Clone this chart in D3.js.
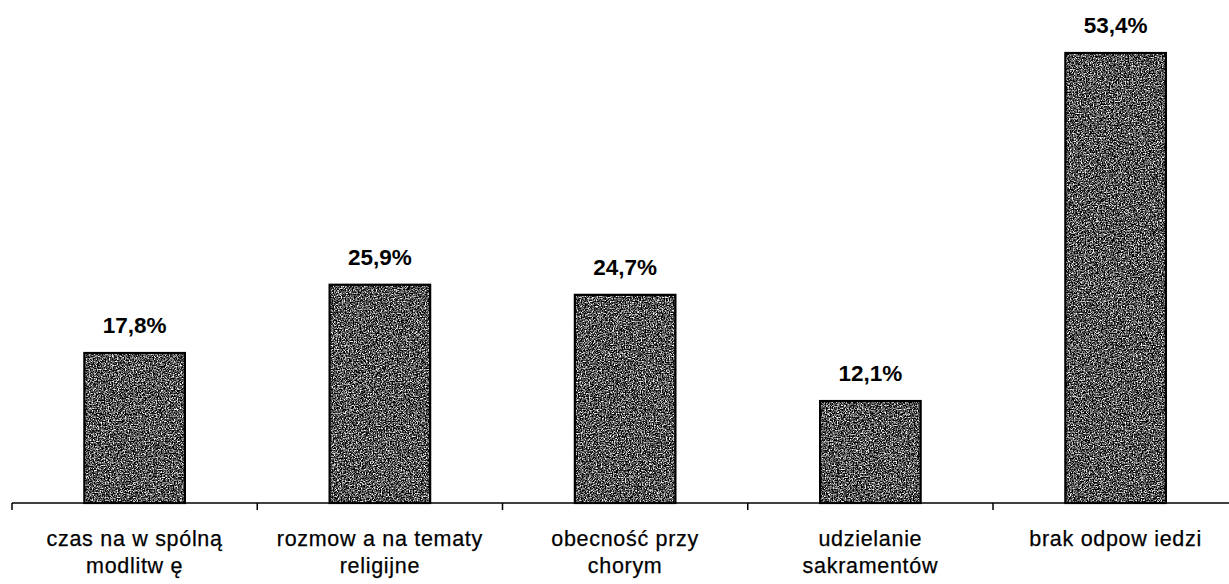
<!DOCTYPE html>
<html>
<head>
<meta charset="utf-8">
<script src="https://cdn.jsdelivr.net/npm/d3@7"></script>
<style>
  html, body { margin: 0; padding: 0; background: #fff; }
  svg { display: block; }
  text { font-family: Arial, "Liberation Sans", sans-serif; fill: #000; }
</style>
</head>
<body>
<svg id="chart" width="1229" height="584"></svg>
<script>
// Categories (each split into the lines it is printed on)
const categories = [
  ["czas na w spólną", "modlitw ę"],
  ["rozmow a na tematy", "religijne"],
  ["obecność przy", "chorym"],
  ["udzielanie", "sakramentów"],
  ["brak odpow iedzi"]
];
// Share of answers, percent
const values = [17.8, 25.9, 24.7, 12.1, 53.4];
const valueLabels = ["17,8%", "25,9%", "24,7%", "12,1%", "53,4%"];

const W = 1229, H = 584;
const left = 12, step = 245.25;
const baseY = 503;

const svg = d3.select("#chart");

// Grainy grey fill for the bars
const defs = svg.append("defs");
const f = defs.append("filter").attr("id", "grain")
  .attr("x", 0).attr("y", 0).attr("width", 1).attr("height", 1)
  .attr("color-interpolation-filters", "sRGB");
f.append("feTurbulence").attr("type", "fractalNoise")
  .attr("baseFrequency", 0.75).attr("numOctaves", 2).attr("seed", 7).attr("result", "noise");
f.append("feColorMatrix").attr("in", "noise").attr("type", "matrix")
  .attr("values", "0.33 0.33 0.33 0 0  0.33 0.33 0.33 0 0  0.33 0.33 0.33 0 0  0 0 0 0 1")
  .attr("result", "gray");
const ct = f.append("feComponentTransfer").attr("in", "gray").attr("result", "bw");
["feFuncR", "feFuncG", "feFuncB"].forEach(n =>
  ct.append(n).attr("type", "linear").attr("slope", 5).attr("intercept", -2.15));
f.append("feComposite").attr("in", "bw").attr("in2", "SourceGraphic").attr("operator", "in");

const x = d3.scaleBand()
  .domain(d3.range(values.length))
  .range([left, left + step * values.length])
  .paddingInner(0.59)
  .paddingOuter(0.295);

const y = d3.scaleLinear().domain([0, 53.4]).range([baseY, 53]);

const g = svg.append("g");

// Bars: grain fill, then black outline
g.selectAll("rect.fill").data(values).join("rect")
  .attr("class", "fill")
  .attr("x", (d, i) => x(i))
  .attr("y", d => y(d))
  .attr("width", x.bandwidth())
  .attr("height", d => baseY - y(d))
  .attr("fill", "#888")
  .attr("filter", "url(#grain)");

g.selectAll("rect.edge").data(values).join("rect")
  .attr("class", "edge")
  .attr("x", (d, i) => x(i))
  .attr("y", d => y(d))
  .attr("width", x.bandwidth())
  .attr("height", d => baseY - y(d))
  .attr("fill", "none")
  .attr("stroke", "#000")
  .attr("stroke-width", 2.2);

// Category axis with ticks between categories
g.append("line")
  .attr("x1", left).attr("x2", W)
  .attr("y1", baseY).attr("y2", baseY)
  .attr("stroke", "#000").attr("stroke-width", 1.5);
g.selectAll("line.tick").data(d3.range(values.length)).join("line")
  .attr("class", "tick")
  .attr("x1", i => left + i * step).attr("x2", i => left + i * step)
  .attr("y1", baseY).attr("y2", baseY + 7)
  .attr("stroke", "#000").attr("stroke-width", 1.5);

// Value labels
g.selectAll("text.val").data(values).join("text")
  .attr("class", "val")
  .attr("x", (d, i) => x(i) + x.bandwidth() / 2)
  .attr("y", d => y(d) - 20)
  .attr("text-anchor", "middle")
  .attr("font-size", 22.5)
  .attr("font-weight", "bold")
  .text((d, i) => valueLabels[i]);

// Category labels
const cat = g.selectAll("text.cat").data(categories).join("text")
  .attr("class", "cat")
  .attr("text-anchor", "middle")
  .attr("font-size", 21.5)
  .attr("letter-spacing", 0.7)
  .attr("stroke", "#000")
  .attr("stroke-width", 0.25);
cat.selectAll("tspan").data((d, i) => d.map(s => ({ s, i }))).join("tspan")
  .attr("x", d => x(d.i) + x.bandwidth() / 2)
  .attr("y", (d, j) => 546 + j * 26.5)
  .text(d => d.s);
</script>
</body>
</html>
